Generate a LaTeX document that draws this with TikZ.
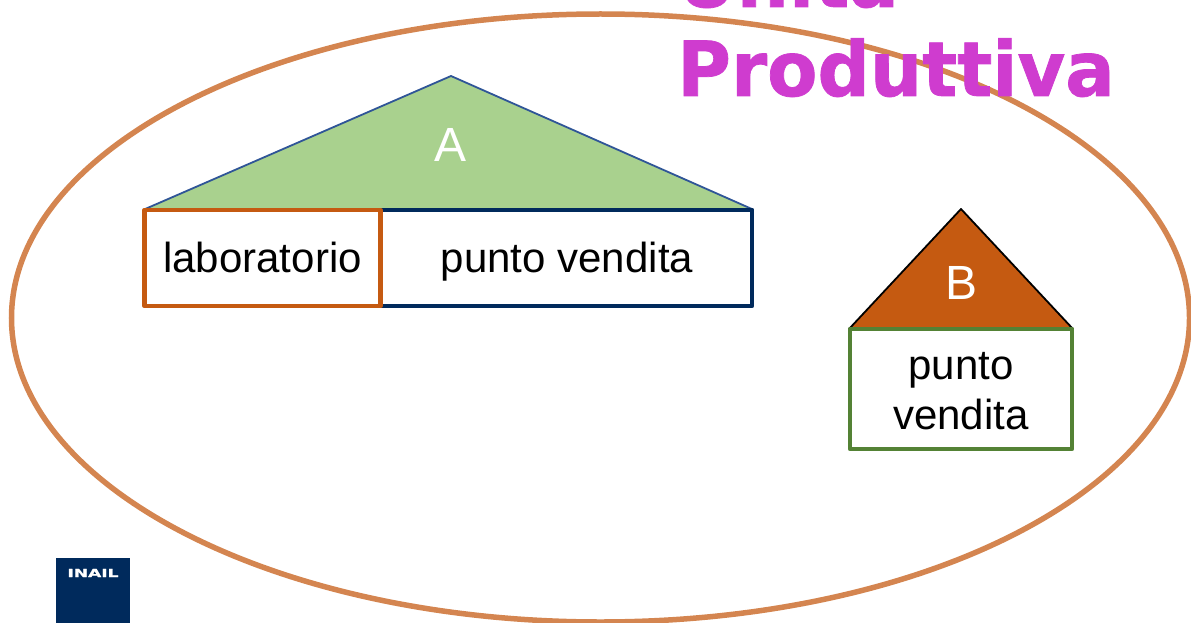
\documentclass[tikz,border=0pt]{standalone}
\usepackage{fontspec}
\setmainfont{Liberation Sans}
\newfontfamily\titlefont[BoldFeatures={FakeBold=1}]{DejaVu Sans}
\usetikzlibrary{positioning}
\definecolor{ellipsecol}{HTML}{D48550}
\definecolor{titlecol}{HTML}{CF3CCF}
\definecolor{roofgreen}{HTML}{A9D18E}
\definecolor{roofline}{HTML}{2F5597}
\definecolor{rooforange}{HTML}{C55A11}
\definecolor{navybox}{HTML}{002A5C}
\definecolor{greenbox}{HTML}{548235}
\tikzset{
    room/.style={draw, line width=4.5pt, line join=round, fill=white, inner sep=0pt, font=\fontsize{42}{50}\selectfont, align=center},
    roofletter/.style={text=white, inner sep=0pt, font=\fontsize{48}{56}\selectfont},
    titletext/.style={text=titlecol, inner sep=0pt, anchor=base west, xscale=0.965, font=\titlefont\bfseries\fontsize{76}{90}\selectfont}
}
\begin{document}
\begin{tikzpicture}[x=1pt,y=-1pt]
    \useasboundingbox (0,0) rectangle (1191,623);

    % Ellisse
    \draw[ellipsecol, line width=5.5pt] (600.5,318) ellipse [x radius=589, y radius=304];

    % Edificio A
    \draw[roofline, fill=roofgreen, line width=1.8pt, line join=round] (144,209.5) -- (451,76) -- (753,209.5) -- cycle;
    \node[roofletter] (letterA) at (451,145) {A};
    \node[room, draw=navybox, minimum width=372pt, minimum height=96pt] (puntoA) at (566,258) {};
    \node[room, draw=rooforange, minimum width=236pt, minimum height=96pt] (lab) at (262.5,258) {};
    \node[inner sep=0pt, font=\fontsize{42}{50}\selectfont] (labtext) at (262.5,257) {laboratorio};
    \node[inner sep=0pt, font=\fontsize{42}{50}\selectfont] (puntoAtext) at (567,262) {punto vendita};

    % Edificio B
    \draw[black, fill=rooforange, line width=1.8pt, line join=round] (849,329) -- (961,209) -- (1073,329) -- cycle;
    \node[roofletter] (letterB) at (961,283) {B};
    \node[room, draw=greenbox, minimum width=222pt, minimum height=120pt] (puntoB) at (961,389) {};
    \node[inner sep=0pt, align=center, font=\fontsize{42}{50}\selectfont] (puntoBtext) at (961,391) {punto\\vendita};

    % Titolo
    \node[titletext] (unita) at (677,7) {Unità};
    \node[titletext] (produttiva) at (677,96) {Produttiva};

    % Logo
    \fill[navybox] (56,558) rectangle (130,623);
    \node[text=white, inner sep=0pt, xscale=1.55, font=\titlefont\bfseries\fontsize{11}{13}\selectfont] (logo) at (93,573) {INAIL};
\end{tikzpicture}
\end{document}
